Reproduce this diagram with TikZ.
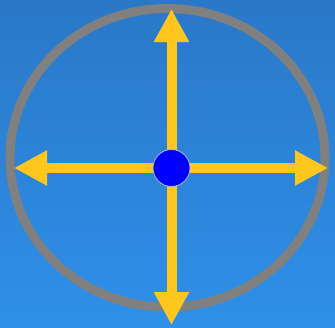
\documentclass[tikz,border=0pt]{standalone}
\usetikzlibrary{arrows.meta,positioning}
\definecolor{skytop}{HTML}{2A78C8}
\definecolor{skybot}{HTML}{2E90E8}
\definecolor{spokegold}{HTML}{FFC61E}
\definecolor{ringgray}{HTML}{808080}
\definecolor{hubrim}{HTML}{A8BCDC}
\tikzset{>={Triangle[length=33pt,width=33pt]}}
\tikzset{spoke/.style={->, line width=10pt, draw=spokegold, fill=spokegold},
  hub/.style={circle, fill=blue, draw=hubrim, line width=0.8pt,
    minimum size=37pt, inner sep=0pt}}
\begin{document}
\begin{tikzpicture}[x=1pt,y=-1pt]
  \shade[top color=skytop, bottom color=skybot] (0,0) rectangle (335,327);
  \useasboundingbox (0,0) rectangle (335,327);
  % outer ring
  \draw[ringgray, line width=9pt] (167.5,157.8) ellipse [x radius=157.5, y radius=149.3];
  \coordinate (mid) at (171.5,168);
  \coordinate (north) at (171.5,9);
  \coordinate (south) at (171.5,325);
  \coordinate (west) at (14,168);
  \coordinate (east) at (328,168);
  \foreach \d in {north,south,west,east}
    \draw[spoke] (mid) -- (\d);
  \node[hub] (core) at (mid) {};
\end{tikzpicture}
\end{document}
